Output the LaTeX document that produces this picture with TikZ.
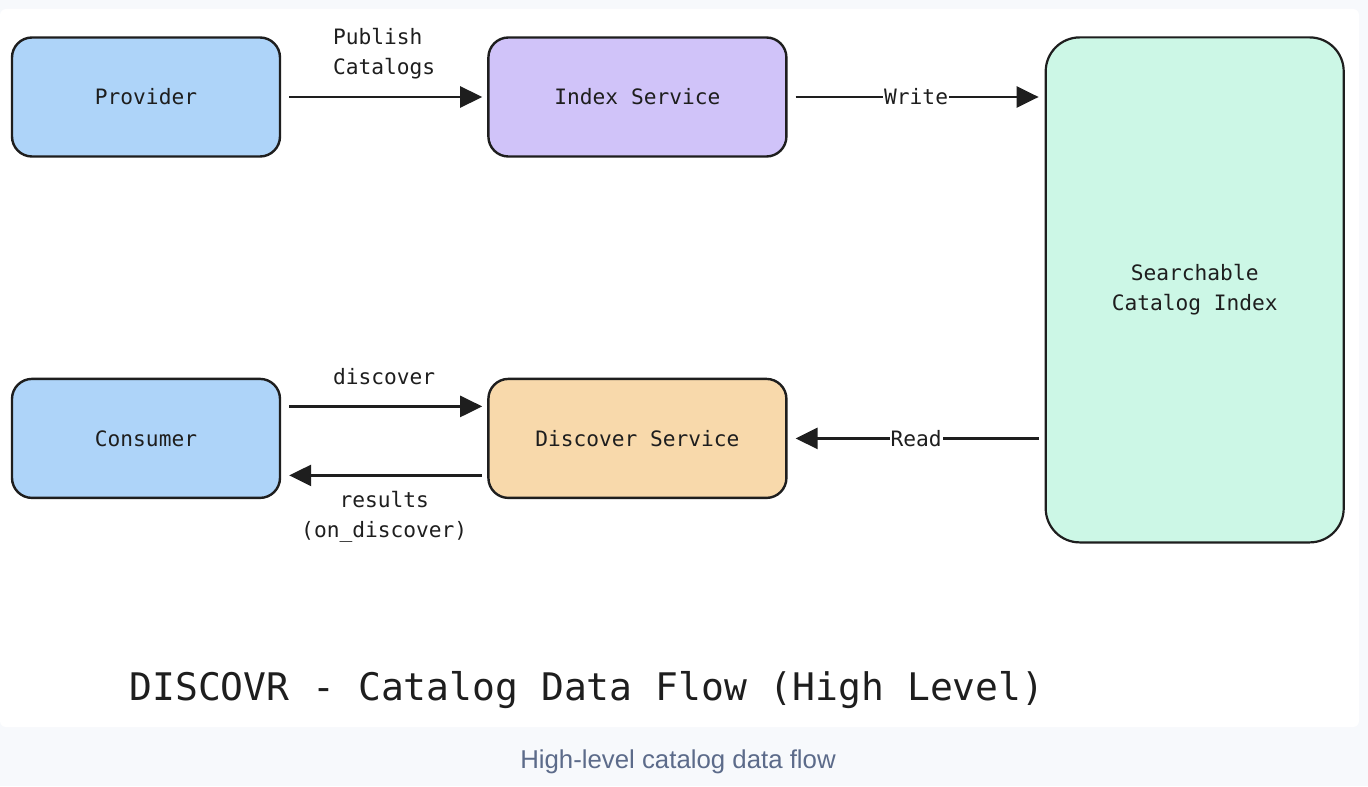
\documentclass[tikz,border=0pt]{standalone}
\usepackage{fontspec}
\setmonofont{DejaVu Sans Mono}
\setsansfont{Liberation Sans}
\usepackage{xcolor}
\usetikzlibrary{arrows.meta, positioning}

\definecolor{pagebg}{HTML}{F7F9FC}
\definecolor{inkdark}{HTML}{1E1E1E}
\definecolor{actorblue}{HTML}{AED4F9}
\definecolor{indexpurple}{HTML}{D0C3F9}
\definecolor{discoverorange}{HTML}{F8D9AB}
\definecolor{storegreen}{HTML}{CCF7E6}
\definecolor{captiongray}{HTML}{5C6B8A}

\begin{document}
\begin{tikzpicture}[
    x=0.5pt, y=-0.5pt,
    font=\ttfamily\fontsize{10.6}{14.8}\selectfont,
    text=inkdark,
    % Styles
    actor/.style={rectangle, rounded corners=10pt, draw=inkdark, line width=1.2pt, fill=actorblue, minimum width=134pt, minimum height=59.5pt, align=center},
    service/.style={rectangle, rounded corners=10pt, draw=inkdark, line width=1.2pt, minimum width=149pt, minimum height=59.5pt, align=center},
    store/.style={rectangle, rounded corners=17pt, draw=inkdark, line width=1.1pt, fill=storegreen, minimum width=149pt, minimum height=252.5pt, align=center},
    arrow/.style={-{Triangle[length=11pt, width=10.5pt]}, line width=1.3pt, draw=inkdark, shorten <=4pt, shorten >=2.5pt},
    flowlabel/.style={font=\ttfamily\fontsize{10.6}{14.8}\selectfont, align=center},
    inlinelabel/.style={fill=white, inner sep=0.5pt}
]
\useasboundingbox (0,0) rectangle (1368,786);

% ------------------- BACKGROUND -------------------
\fill[pagebg] (0,0) rectangle (1368,786);
\fill[white, rounded corners=3pt] (0,9) rectangle (1359,727);

% ------------------- PUBLISH SIDE -------------------
\node[actor] (provider) at (146,97) {Provider};
\node[service, fill=indexpurple, right=103pt of provider] (index) {Index Service};
\node[store, right=128.5pt of index.north east, anchor=north west] (catalog) {Searchable\\Catalog Index};

\draw[arrow] (provider) -- node[flowlabel, above=5pt, align=left] {Publish\\Catalogs} (index);
\draw[arrow, shorten >=3pt] (index) -- node[inlinelabel] {Write} (index -| catalog.west);

% ------------------- DISCOVER SIDE -------------------
\node[actor, below=110pt of provider] (consumer) {Consumer};
\node[service, fill=discoverorange, right=103pt of consumer] (discover) {Discover Service};

\draw[arrow] ([yshift=16pt]consumer.east) -- node[flowlabel, above=7pt] {discover} ([yshift=16pt]discover.west);
\draw[arrow, shorten <=2.5pt, shorten >=4pt] ([yshift=-18.5pt]discover.west) -- node[flowlabel, below=4pt] {results\\(on\_discover)} ([yshift=-18.5pt]consumer.east);
\draw[arrow, shorten <=3pt, shorten >=4pt] (discover -| catalog.west) -- node[inlinelabel] {Read} (discover);

% Title and caption
\node[font=\ttfamily\fontsize{19}{22}\selectfont, anchor=base] (title) at (587,700) {DISCOVR - Catalog Data Flow (High Level)};
\node[font=\sffamily\fontsize{12.9}{15}\selectfont, text=captiongray, anchor=base] (caption) at (678,768) {High-level catalog data flow};

\end{tikzpicture}
\end{document}
